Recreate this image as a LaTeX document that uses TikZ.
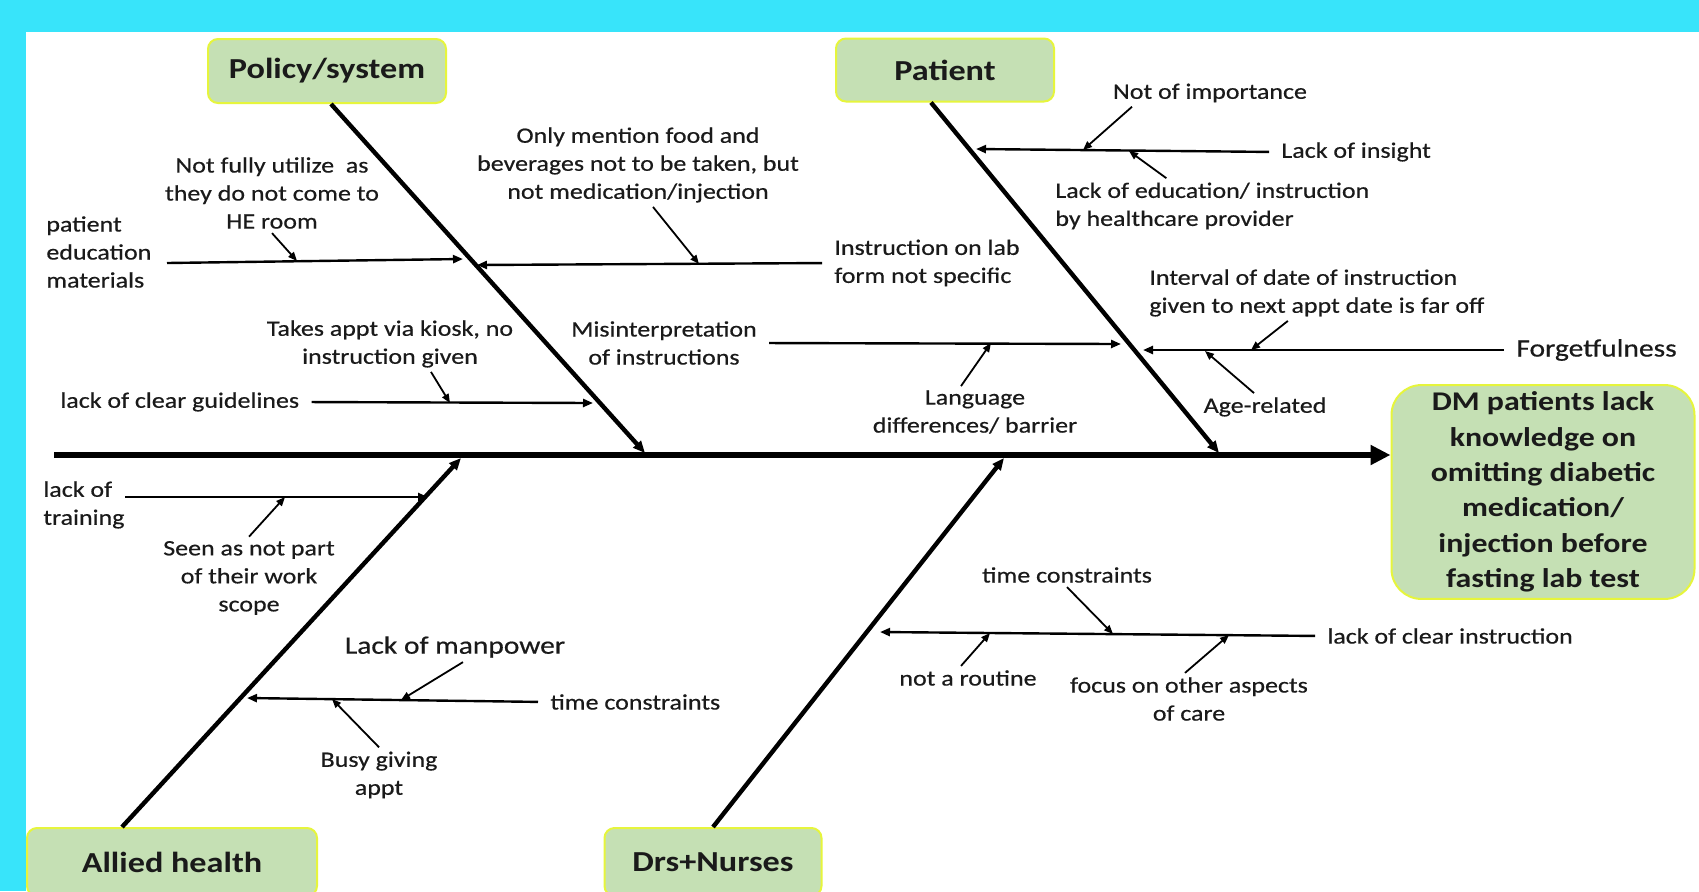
\documentclass[tikz,border=0pt]{standalone}
\usepackage{fontspec}
\setmainfont{Carlito}[FakeStretch=1.18]
\newfontfamily\lblfont{Carlito}[FakeStretch=1.18,FakeBold=0.5]
\usetikzlibrary{arrows.meta,calc}
\definecolor{bgcyan}{HTML}{38E4FA}
\definecolor{boxgreen}{HTML}{C5E0B4}
\definecolor{boxedge}{HTML}{E6F53C}
\definecolor{inkdark}{HTML}{1A1A1A}

\begin{document}
\begin{tikzpicture}[x=0.5pt,y=-0.5pt,
    cat/.style={draw=boxedge,line width=1pt,fill=boxgreen,rounded corners=5pt,text=inkdark,font=\fontsize{14.5}{17}\selectfont\bfseries},
    lbl/.style={text=inkdark,inner sep=2pt,font=\fontsize{11}{14}\selectfont\lblfont},
    biglbl/.style={text=inkdark,inner sep=2pt,font=\fontsize{12.5}{15}\selectfont\lblfont},
    rib/.style={line width=2.2pt,-{Triangle[length=6pt,width=5pt]}},
    branch/.style={line width=1.2pt,-{Triangle[length=5pt,width=4pt]}},
    fromlbl/.style={branch,shorten <=4pt},
    pointer/.style={line width=0.9pt,-{Triangle[length=4.5pt,width=3.6pt]}}]

    % frame
    \fill[bgcyan] (0,0) rectangle (1699,891);
    \fill[white] (26,32) rectangle (1699,891);
    \useasboundingbox (0,0) rectangle (1699,891);

    % categories and effect
    \node[cat,minimum width=119pt,minimum height=32pt] (pol) at (327,71) {Policy/system};
    \node[cat,minimum width=109pt,minimum height=31.5pt] (pat) at (945,70) {Patient};
    \node[cat,minimum width=145pt,minimum height=34pt] (ahl) at (172,862) {Allied health};
    \node[cat,minimum width=108.5pt,minimum height=34pt] (drn) at (713,862) {Drs+Nurses};
    \node[cat,rounded corners=15pt,minimum width=151.5pt,minimum height=104pt,align=center,
          font=\fontsize{13.5}{17.7}\selectfont\bfseries] (dmk) at (1543,492)
          {DM patients lack\\knowledge on\\omitting diabetic\\medication/\\injection before\\fasting lab test};

    % spine
    \coordinate (tail) at (54,455);
    \draw[line width=2.6pt,-{Triangle[length=10pt,width=9.5pt]}] (tail) -- (tail -| dmk.west);

    % ribs
    \coordinate (polE) at (645,453);
    \coordinate (patE) at (1219,453);
    \coordinate (ahlE) at (461,458);
    \coordinate (drnE) at (1004,458);
    \draw[rib] ($(pol.south)+(4,0)$) -- (polE);
    \draw[rib] ($(pat.south)+(-14,0)$) -- (patE);
    \draw[rib] ($(ahl.north)+(-50,0)$) -- (ahlE);
    \draw[rib] (drn.north) -- (drnE);

    % policy/system causes
    \node[lbl,align=left,anchor=west] (pem) at (42,252) {patient\\education\\materials};
    \node[lbl,align=center] (nfu) at (272,193) {Not fully utilize~ as\\they do not come to\\HE room};
    \node[lbl,align=center] (omf) at (638,165) {Only mention food and\\beverages not to be taken, but\\not medication/injection};
    \node[lbl,align=left,anchor=west] (ilf) at (830,263) {Instruction on lab\\form not specific};
    \node[lbl,align=center] (tak) at (390,344) {Takes appt via kiosk, no\\instruction given};
    \node[lbl,anchor=west] (lcg) at (56,402) {lack of clear guidelines};

    \coordinate (pemS) at (167,263);
    \coordinate (pemT) at (463,259);
    \coordinate (ilfT) at (477,265);
    \coordinate (lcgT) at (593,403);
    \draw[branch] (pemS) -- (pemT);
    \draw[fromlbl] (ilf.west) -- (ilfT);
    \draw[fromlbl] (lcg.east) -- (lcgT);

    \coordinate (nfuT) at (297,261);
    \coordinate (omfT) at (699,264);
    \coordinate (takT) at (450,403);
    \draw[pointer] (nfu.south) -- (nfuT);
    \draw[pointer] ($(omf.south)+(15,0)$) -- (omfT);
    \draw[pointer] ($(tak.south)+(41,0)$) -- (takT);

    % patient causes
    \node[lbl,align=center] (mis) at (664,343) {Misinterpretation\\of instructions};
    \node[lbl] (noi) at (1210,93) {Not of importance};
    \node[lbl,anchor=west] (loi) at (1277,152) {Lack of insight};
    \node[lbl,align=left,anchor=west] (loe) at (1051,206) {Lack of education/ instruction\\by healthcare provider};
    \node[lbl,align=left,anchor=west] (iod) at (1145,293) {Interval of date of instruction\\given to next appt date is far off};
    \node[biglbl,anchor=west] (fgt) at (1512,350) {Forgetfulness};
    \node[lbl,align=center] (lang) at (975,412) {Language\\differences/ barrier};
    \node[lbl] (age) at (1265,407) {Age-related};

    \coordinate (loiT) at (976,149);
    \coordinate (misT) at (1121,344);
    \coordinate (fgtT) at (1143,350);
    \draw[fromlbl] (loi.west) -- (loiT);
    \draw[fromlbl] (mis.east) -- (misT);
    \draw[fromlbl] (fgt.west) -- (fgtT);

    \coordinate (noiT) at (1083,150);
    \coordinate (loeT) at (1129,151);
    \coordinate (iodT) at (1251,350);
    \coordinate (langT) at (991,343);
    \coordinate (ageT) at (1205,351);
    \draw[pointer] ($(noi.south)+(-78,0)$) -- (noiT);
    \draw[pointer] ($(loe.north)+(-46,0)$) -- (loeT);
    \draw[pointer] ($(iod.south)+(-29,0)$) -- (iodT);
    \draw[pointer] ($(lang.north)+(-14,0)$) -- (langT);
    \draw[pointer] ($(age.north)+(-11,0)$) -- (ageT);

    % allied health causes
    \node[lbl,align=left,anchor=west] (lot) at (39,505) {lack of\\training};
    \node[lbl,align=center] (snp) at (249,578) {Seen as not part\\of their work\\scope};
    \node[biglbl] (lom) at (455,647) {Lack of manpower};
    \node[lbl,anchor=west] (tc1) at (546,702) {time constraints};
    \node[lbl,align=center] (bga) at (379,775) {Busy giving\\appt};

    \coordinate (lotS) at (125,497);
    \coordinate (lotT) at (428,497);
    \coordinate (tc1T) at (247,698);
    \draw[branch] (lotS) -- (lotT);
    \draw[fromlbl] (tc1.west) -- (tc1T);

    \coordinate (snpT) at (285,497);
    \coordinate (lomT) at (401,700);
    \coordinate (bgaT) at (332,699);
    \draw[pointer] (snp.north) -- (snpT);
    \draw[pointer] ($(lom.south)+(8,0)$) -- (lomT);
    \draw[pointer] (bga.north) -- (bgaT);

    % drs+nurses causes
    \node[lbl] (tc2) at (1067,575) {time constraints};
    \node[lbl,anchor=west] (lci) at (1323,636) {lack of clear instruction};
    \node[lbl] (nar) at (968,678) {not a routine};
    \node[lbl,align=center] (foa) at (1189,699) {focus on other aspects\\of care};

    \coordinate (lciT) at (880,632);
    \draw[fromlbl] (lci.west) -- (lciT);

    \coordinate (tc2T) at (1113,634);
    \coordinate (narT) at (990,633);
    \coordinate (foaT) at (1229,635);
    \draw[pointer] (tc2.south) -- (tc2T);
    \draw[pointer] ($(nar.north)+(-7,0)$) -- (narT);
    \draw[pointer] ($(foa.north)+(-4,0)$) -- (foaT);
\end{tikzpicture}
\end{document}
